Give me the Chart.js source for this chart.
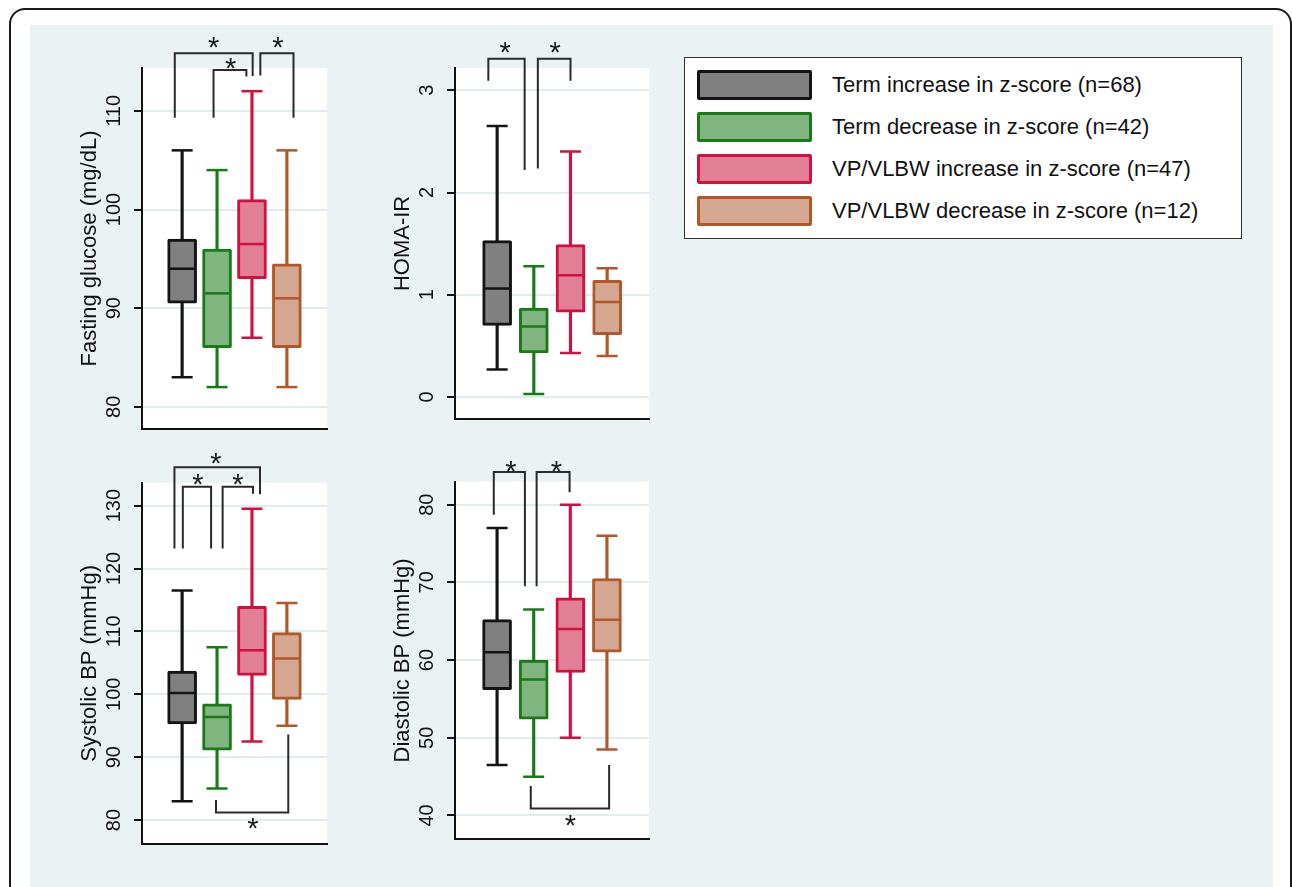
<!DOCTYPE html>
<html>
<head>
<meta charset="utf-8">
<script src="https://cdn.jsdelivr.net/npm/chart.js@4.4.1/dist/chart.umd.min.js"></script>
<style>
  html, body { margin:0; padding:0; background:#ffffff; }
  body { width:1292px; height:887px; overflow:hidden; position:relative; font-family:"Liberation Sans", Arial, sans-serif; }
  #frame { position:absolute; left:9px; top:8px; width:1279px; height:930px; border:2px solid #1a1a1a; border-radius:16px; }
  #panel { position:absolute; left:30px; top:25px; width:1243px; height:880px; background:#eaf2f3; }
  canvas { position:absolute; }
  #legend { position:absolute; left:684px; top:57px; width:556px; height:180px; border:1.5px solid #333; background:#fff; }
  .sw { position:absolute; left:12px; width:109px; height:24px; border-style:solid; border-width:3px; border-radius:2px; }
  .lt { position:absolute; left:147px; font-size:22px; color:#111; line-height:30px; white-space:nowrap; }
</style>
</head>
<body>
<div id="frame"></div>
<div id="panel"></div>
<canvas id="c1" width="313" height="420" style="left:30px;top:25px"></canvas>
<canvas id="c2" width="330" height="420" style="left:343px;top:25px"></canvas>
<canvas id="c3" width="313" height="420" style="left:30px;top:440px"></canvas>
<canvas id="c4" width="330" height="420" style="left:343px;top:440px"></canvas>
<div id="legend"></div>
<script>
// ---------------- data ----------------
const groups = [
  'Term increase in z-score (n=68)',
  'Term decrease in z-score (n=42)',
  'VP/VLBW increase in z-score (n=47)',
  'VP/VLBW decrease in z-score (n=12)'
];
const groupPos = [1, 2, 3, 4];

const glucoseMin = [83, 82, 87, 82];
const glucoseQ1  = [90.5, 86, 93, 86];
const glucoseMed = [94, 91.5, 96.5, 91];
const glucoseQ3  = [97, 96, 101, 94.5];
const glucoseMax = [106, 104, 112, 106];
const glucoseTicks = [80, 90, 100, 110];

const homaMin = [0.27, 0.03, 0.43, 0.40];
const homaQ1  = [0.70, 0.43, 0.83, 0.61];
const homaMed = [1.06, 0.69, 1.19, 0.93];
const homaQ3  = [1.53, 0.87, 1.49, 1.14];
const homaMax = [2.65, 1.28, 2.40, 1.26];
const homaTicks = [0, 1, 2, 3];

const sbpMin = [83, 85, 92.5, 95];
const sbpQ1  = [95.3, 91.1, 103, 99.2];
const sbpMed = [100.2, 96.4, 107, 105.7];
const sbpQ3  = [103.7, 98.5, 114, 109.8];
const sbpMax = [116.5, 107.5, 129.5, 114.5];
const sbpTicks = [80, 90, 100, 110, 120, 130];

const dbpMin = [46.5, 45, 50, 48.5];
const dbpQ1  = [56.2, 52.4, 58.4, 61];
const dbpMed = [61, 57.5, 64, 65.2];
const dbpQ3  = [65.2, 60, 68, 70.5];
const dbpMax = [77, 66.5, 80, 76];
const dbpTicks = [40, 50, 60, 70, 80];

// significance brackets (data units): [xLeft, xRight, yLeftEnd, yBar, yRightEnd, starX, starY]
const glucoseSig = [
  [0.79, 3.02, 109.3, 115.85, 113.55, 1.90, 116.9],
  [1.90, 2.84, 109.3, 114.15, 113.5, 2.39, 114.85],
  [3.24, 4.19, 113.6, 115.85, 109.3, 3.74, 116.9]
];
const homaSig = [
  [0.76, 1.75, 3.094, 3.309, 2.22, 1.22, 3.42],
  [2.11, 3.00, 2.235, 3.309, 3.094, 2.58, 3.42]
];
const sbpSig = [
  [0.78, 3.23, 123.2, 136.1, 131.8, 1.97, 137.5],
  [1.02, 1.83, 123.2, 133.0, 123.2, 1.45, 134.2],
  [2.16, 3.03, 123.2, 133.0, 131.9, 2.60, 134.2],
  [1.97, 4.04, 83.2, 81.2, 93.6, 3.03, 79.4]
];
const dbpSig = [
  [0.91, 1.76, 78.7, 84.2, 69.5, 1.38, 84.95],
  [2.08, 2.98, 69.5, 84.2, 81.6, 2.62, 84.95],
  [1.92, 4.06, 43.8, 40.9, 46.5, 3.00, 39.4]
];

// ---------------- styles ----------------
const FONT = '"Liberation Sans", Arial, sans-serif';
const TICK_SIZE = 20;
const fillColors = ['#808080', '#80b580', '#e07f95', '#d4a890'];
const lineColors = ['#141414', '#1a7a1a', '#d0103f', '#b0582a'];

function tickPadFor(ticks) {
  const c = document.createElement('canvas').getContext('2d');
  c.font = TICK_SIZE + 'px ' + FONT;
  const w = Math.max(...ticks.map(t => c.measureText(String(t)).width));
  return 28 - 8 - w / 2;
}

function boxPanel(id, s) {
  const plotBg = {
    id: 'plotBg',
    beforeDraw(chart) {
      const a = chart.chartArea, ctx = chart.ctx;
      ctx.save(); ctx.fillStyle = '#ffffff';
      ctx.fillRect(a.left, a.top, a.right - a.left, a.bottom - a.top);
      ctx.restore();
    }
  };
  const brackets = {
    id: 'brackets',
    afterDatasetsDraw(chart) {
      const ctx = chart.ctx, X = chart.scales.x, Y = chart.scales.y;
      ctx.save();
      ctx.strokeStyle = '#2a2a2a'; ctx.lineWidth = 2; ctx.lineJoin = 'miter';
      ctx.fillStyle = '#1a1a1a';
      ctx.font = '29px ' + FONT; ctx.textAlign = 'center'; ctx.textBaseline = 'alphabetic';
      const m = ctx.measureText('*');
      const off = (m.actualBoundingBoxAscent - m.actualBoundingBoxDescent) / 2;
      s.sig.forEach(b => {
        const [xl, xr, yl, yb, yr, sx, sy] = b;
        ctx.beginPath();
        ctx.moveTo(X.getPixelForValue(xl), Y.getPixelForValue(yl));
        ctx.lineTo(X.getPixelForValue(xl), Y.getPixelForValue(yb));
        ctx.lineTo(X.getPixelForValue(xr), Y.getPixelForValue(yb));
        ctx.lineTo(X.getPixelForValue(xr), Y.getPixelForValue(yr));
        ctx.stroke();
        ctx.fillText('*', X.getPixelForValue(sx), Y.getPixelForValue(sy) + off);
      });
      ctx.restore();
    }
  };
  const ticks = s.ticks;
  return new Chart(document.getElementById(id), {
    type: 'bar',
    data: {
      datasets: [
        { label: 'whisker', data: groupPos.map((p, i) => ({ x: p, y: [s.min[i], s.max[i]] })),
          backgroundColor: lineColors, borderWidth: 0, barThickness: 2.5, grouped: false, order: 3 },
        { label: 'box', data: groupPos.map((p, i) => ({ x: p, y: [s.q1[i], s.q3[i]] })),
          backgroundColor: fillColors, borderColor: lineColors, borderWidth: 3, borderSkipped: false,
          borderRadius: 1.5, barThickness: 29, grouped: false, order: 2 },
        { type: 'scatter', label: 'caps',
          data: groupPos.flatMap((p, i) => [{ x: p, y: s.min[i] }, { x: p, y: s.max[i] }]),
          pointStyle: 'line', pointRadius: 10.5, pointBorderWidth: 2.5,
          pointBorderColor: lineColors.flatMap(c => [c, c]), showLine: false, order: 1 },
        { type: 'scatter', label: 'median', data: groupPos.map((p, i) => ({ x: p, y: s.med[i] })),
          pointStyle: 'line', pointRadius: 13.5, pointBorderWidth: 2.5,
          pointBorderColor: lineColors, showLine: false, order: 0 }
      ]
    },
    options: {
      responsive: false, animation: false, events: [],
      layout: { padding: s.pad },
      plugins: { legend: { display: false }, tooltip: { enabled: false } },
      scales: {
        x: {
          type: 'linear', min: -0.149, max: 5.149, offset: false,
          ticks: { display: false }, grid: { display: false },
          border: { display: true, color: '#111', width: 2 },
          afterFit: sc => { sc.height = 0; }
        },
        y: {
          type: 'linear', min: s.yMin, max: s.yMax,
          afterBuildTicks: sc => { sc.ticks = ticks.map(v => ({ value: v })); },
          ticks: { minRotation: 90, maxRotation: 90, crossAlign: 'center', padding: tickPadFor(ticks),
                   color: '#111', font: { size: TICK_SIZE, family: FONT }, callback: v => String(v) },
          grid: { color: '#e2ecef', lineWidth: 2, tickColor: '#111', tickWidth: 2, tickLength: 8 },
          border: { display: true, color: '#111', width: 2 },
          title: { display: true, text: s.title, color: '#111', font: { size: 22, family: FONT },
                   padding: { top: 60 - 13.2, bottom: 0 } },
          afterFit: sc => { sc.width = 112; }
        }
      }
    },
    plugins: [plotBg, brackets]
  });
}

boxPanel('c1', { title: 'Fasting glucose (mg/dL)', min: glucoseMin, q1: glucoseQ1, med: glucoseMed, q3: glucoseQ3, max: glucoseMax,
  ticks: glucoseTicks, yMin: 77.75, yMax: 114.35, sig: glucoseSig, pad: { left: 0, top: 43, right: 5, bottom: 15 } });
boxPanel('c2', { title: 'HOMA-IR', min: homaMin, q1: homaQ1, med: homaMed, q3: homaQ3, max: homaMax,
  ticks: homaTicks, yMin: -0.211, yMax: 3.215, sig: homaSig, pad: { left: 0, top: 43.3, right: 23.7, bottom: 15 } });
boxPanel('c3', { title: 'Systolic BP (mmHg)', min: sbpMin, q1: sbpQ1, med: sbpMed, q3: sbpQ3, max: sbpMax,
  ticks: sbpTicks, yMin: 76.19, yMax: 133.65, sig: sbpSig, pad: { left: 0, top: 42.7, right: 5, bottom: 15 } });
boxPanel('c4', { title: 'Diastolic BP (mmHg)', min: dbpMin, q1: dbpQ1, med: dbpMed, q3: dbpQ3, max: dbpMax,
  ticks: dbpTicks, yMin: 36.96, yMax: 82.95, sig: dbpSig, pad: { left: 0, top: 41.7, right: 24, bottom: 15 } });

// legend
const leg = document.getElementById('legend');
groups.forEach((g, i) => {
  const top = 12 + i * 42.1;
  const sw = document.createElement('div');
  sw.className = 'sw';
  sw.style.top = top + 'px';
  sw.style.background = fillColors[i];
  sw.style.borderColor = lineColors[i];
  leg.appendChild(sw);
  const t = document.createElement('div');
  t.className = 'lt';
  t.style.top = top + 'px';
  t.textContent = g;
  leg.appendChild(t);
});
</script>
</body>
</html>
